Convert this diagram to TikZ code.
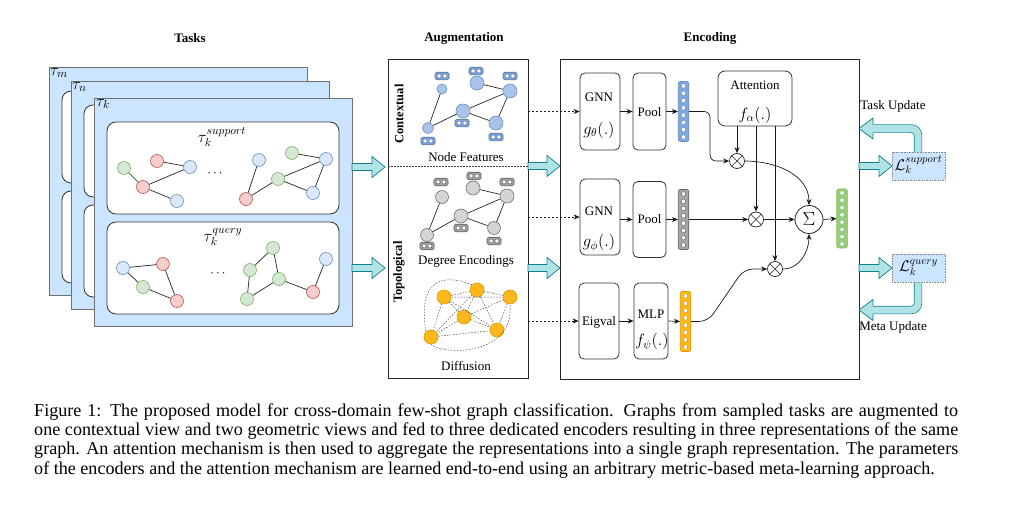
\RequirePackage{fix-cm}
\documentclass[tikz,border=0pt]{standalone}
\usepackage{fontspec}
\setmainfont{Liberation Serif}
\usetikzlibrary{arrows.meta,calc}
\definecolor{taskfill}{HTML}{CCE5FF}
\definecolor{taskdraw}{HTML}{707070}
\definecolor{gfill}{HTML}{D5E8D4}\definecolor{gdraw}{HTML}{82B366}
\definecolor{rfill}{HTML}{F8CECC}\definecolor{rdraw}{HTML}{B85450}
\definecolor{bfill}{HTML}{DAE8FC}\definecolor{bdraw}{HTML}{6C8EBF}
\definecolor{tealfill}{HTML}{B0E3E6}\definecolor{tealdraw}{HTML}{0E8088}
\definecolor{cblue}{HTML}{A9C4EB}
\definecolor{fblue}{HTML}{7EA6E0}
\definecolor{cgray}{HTML}{D4D4D4}
\definecolor{fgray}{HTML}{A6A6A6}
\definecolor{corange}{HTML}{FFB81C}\definecolor{dorange}{HTML}{D79B00}
\definecolor{vgreen}{HTML}{97D077}
\tikzset{
 gn/.style={circle, inner sep=0pt, minimum size=13pt, line width=0.6pt},
 gg/.style={gn, fill=gfill, draw=gdraw},
 gr/.style={gn, fill=rfill, draw=rdraw},
 gb/.style={gn, fill=bfill, draw=bdraw},
 cn/.style={gn, fill=cblue, draw=bdraw, minimum size=14pt},
 dn/.style={gn, fill=cgray, draw=black!55, minimum size=14pt},
 on/.style={gn, fill=corange, draw=dorange, minimum size=14pt},
 edge/.style={draw=black!85, line width=0.7pt},
 dedge/.style={draw=black!70, line width=0.5pt, dash pattern=on 1.5pt off 1.5pt},
 feat/.style={rectangle, rounded corners=1.5pt, minimum width=14pt, minimum height=7.5pt, inner sep=0pt, line width=0.6pt,
   path picture={\draw[fill=white, line width=0.5pt] ([xshift=-2.9pt]path picture bounding box.center) circle (2.1pt) ([xshift=2.9pt]path picture bounding box.center) circle (2.1pt);}},
 featb/.style={feat, fill=fblue, draw=bdraw!80!black},
 featg/.style={feat, fill=fgray, draw=black!65},
 fv/.style={rectangle, rounded corners=2pt, minimum width=10.5pt, minimum height=60pt, inner sep=0pt, line width=0.6pt,
   path picture={\foreach \i in {0,...,7}{\draw[fill=white, line width=0.5pt] ([yshift={(\i-3.5)*7.3pt}]path picture bounding box.center) circle (2.3pt);}}},
 ot/.style={circle, draw=black!85, fill=white, minimum size=15pt, inner sep=0pt, line width=0.7pt,
   path picture={\draw[line width=0.5pt] (path picture bounding box.north west)--(path picture bounding box.south east) (path picture bounding box.north east)--(path picture bounding box.south west);}},
 taskrect/.style={draw=taskdraw, fill=taskfill, line width=0.8pt},
 innerbox/.style={draw=black!80, fill=white, rounded corners=9pt, line width=0.8pt},
 encbox/.style={draw=black!80, fill=white, rounded corners=5pt, line width=0.8pt, inner sep=0pt},
 panel/.style={draw=black!85, line width=0.8pt, inner sep=0pt},
 title/.style={font=\fontsize{13}{15}\selectfont\bfseries, inner sep=1pt},
 lbl/.style={font=\fontsize{13}{15}\selectfont, inner sep=1pt},
 mlbl/.style={font=\fontsize{16.5}{18}\selectfont, inner sep=1pt},
 captext/.style={font=\fontsize{18.1}{19.4}\selectfont, inner sep=0pt},
 arr/.style={-{Stealth[length=6pt,width=5pt]}, line width=0.7pt, draw=black!90},
 darr/.style={arr, dash pattern=on 2pt off 2pt, line width=0.5pt},
 lossbox/.style={fill=taskfill, draw=black!45, densely dotted, line width=0.6pt, minimum width=53pt, minimum height=28pt, inner sep=0pt},
 tealst/.style={draw=tealdraw, fill=tealfill, line width=0.7pt, line join=miter},
}
\newcommand{\tealarrow}[2]{%
  \draw[tealst] let \p1=(#1), \p2=(#2) in
    (\x1,\y1-3.5pt) -- (\x2-13pt,\y1-3.5pt) -- (\x2-13pt,\y1-10.5pt) -- (\x2,\y1) -- (\x2-13pt,\y1+10.5pt) -- (\x2-13pt,\y1+3.5pt) -- (\x1,\y1+3.5pt) -- cycle;}
\newcommand{\tasklayer}[2]{%
  \draw[taskrect] (#1,#2) rectangle ++(258,228);
  \draw[innerbox] (#1+13,#2+24) rectangle (#1+245,#2+116);
  \draw[innerbox] (#1+13,#2+124) rectangle (#1+245,#2+216);}
\begin{document}
\begin{tikzpicture}[x=1pt,y=-1pt]
\useasboundingbox (0,0) rectangle (1024,510);
% titles
\node[title] (tTasks) at (190,38) {Tasks};
\node[title] (tAug) at (464,38) {Augmentation};
\node[title] (tEnc) at (710,38) {Encoding};
% ---------------- tasks
\tasklayer{49}{67}
\node[mlbl, anchor=north west] (lm) at (49,67) {$\tau_m$};
\tasklayer{71}{81}
\node[mlbl, anchor=north west] (ln) at (71,81) {$\tau_n$};
\tasklayer{94}{98}
\node[mlbl, anchor=north west] (lk) at (95,98) {$\tau_k$};
\node[mlbl] (lsupp) at (222,137) {$\tau_k^{support}$};
\node[mlbl] (lquer) at (223,237) {$\tau_k^{query}$};
% support graphs
\node[gg] (s1) at (124,168) {};
\node[gr] (s2) at (157,161) {};
\node[gb] (s3) at (190,167) {};
\node[gr] (s4) at (143,187) {};
\node[gb] (s5) at (177,201) {};
\draw[edge] (s1)--(s4) (s4)--(s3) (s4)--(s5) (s2)--(s3);
\node[lbl] (sdots) at (215,174) {$\cdots$};
\node[gb] (s6) at (259,160) {};
\node[gg] (s7) at (292,153) {};
\node[gb] (s8) at (326,159) {};
\node[gg] (s9) at (278,179) {};
\node[gb] (s10) at (313,193) {};
\node[gr] (s11) at (246,199) {};
\draw[edge] (s6)--(s11) (s11)--(s9) (s9)--(s8) (s9)--(s10) (s7)--(s8) (s8)--(s10);
% query graphs
\node[gb] (q1) at (123,268) {};
\node[gr] (q2) at (163,264) {};
\node[gg] (q3) at (143,287) {};
\node[gr] (q4) at (177,301) {};
\draw[edge] (q1)--(q2) (q1)--(q3) (q3)--(q4) (q2)--(q4);
\node[lbl] (qdots) at (218,274) {$\cdots$};
\node[gg] (q5) at (273,248) {};
\node[gg] (q6) at (250,270) {};
\node[gg] (q7) at (279,279) {};
\node[gg] (q8) at (247,299) {};
\node[gr] (q9) at (313,292) {};
\node[gb] (q10) at (326,259) {};
\draw[edge] (q5)--(q6) (q5)--(q7) (q7)--(q8) (q6)--(q8) (q7)--(q9) (q9)--(q10);
% ---------------- augmentation
\node[panel, minimum width=140pt, minimum height=319pt] (augbox) at (458,218.5) {};
\node[title, rotate=90, font=\fontsize{12.5}{14}\selectfont\bfseries] (ctx) at (399,114) {Contextual};
\node[title, rotate=90, font=\fontsize{12.5}{14}\selectfont\bfseries] (topo) at (399,272) {Topological};
\coordinate (sepL) at (388,166);
\coordinate (sepR) at (528,166);
\draw[dedge, draw=black!75] (sepL) -- (sepR);
% contextual
\node[cn, minimum size=10pt] (c1) at (442,89) {};
\node[cn] (c2) at (477,83) {};
\node[cn] (c3) at (510,91) {};
\node[cn] (c4) at (463,111) {};
\node[cn] (c5) at (496,123) {};
\node[cn, minimum size=11pt] (c6) at (428,128) {};
\draw[edge] (c1)--(c6) (c6)--(c4) (c4)--(c3) (c2)--(c3) (c4)--(c5) (c3)--(c5);
\node[featb] (cf1) at (442,76) {};
\node[featb] (cf2) at (476,71) {};
\node[featb] (cf3) at (510,76) {};
\node[featb] (cf4) at (462,123) {};
\node[featb] (cf5) at (496,137) {};
\node[featb] (cf6) at (428,141) {};
\node[lbl] (nfeat) at (466,157) {Node Features};
% degree
\node[dn, minimum size=13pt] (d1) at (442,197) {};
\node[dn] (d2) at (473,188) {};
\node[dn] (d3) at (507,196) {};
\node[dn] (d4) at (461,216) {};
\node[dn, minimum size=13pt] (d5) at (494,228) {};
\node[dn, minimum size=13pt] (d6) at (427,235) {};
\draw[edge] (d1)--(d6) (d6)--(d4) (d4)--(d3) (d2)--(d3) (d4)--(d5) (d3)--(d5);
\node[featg] (df1) at (441,182) {};
\node[featg] (df2) at (474,176) {};
\node[featg] (df3) at (507,182) {};
\node[featg] (df4) at (461,228) {};
\node[featg] (df5) at (494,241) {};
\node[featg] (df6) at (427,246) {};
\node[lbl] (degenc) at (466,261) {Degree Encodings};
% diffusion
\node[on] (o1) at (444,297) {};
\node[on] (o2) at (477,290) {};
\node[on] (o3) at (510,297) {};
\node[on] (o4) at (464,317) {};
\node[on] (o5) at (497,330) {};
\node[on] (o6) at (431,337) {};
\draw[dedge] (o1)--(o2) (o1)--(o4) (o1)--(o5) (o1)--(o6) (o2)--(o3) (o2)--(o4) (o2)--(o6) (o2)--(o5)
  (o3)--(o4) (o3)--(o5) (o4)--(o5) (o4)--(o6) (o6)--(o5) (o1)--(o3);
\draw[dedge] (o2.north west) .. controls (440,272) and (418,282) .. (o6.north west);
\draw[dedge] (o6.south) .. controls (445,356) and (515,355) .. (o3.south);
\node[lbl] (diff) at (466,366) {Diffusion};
% ---------------- encoding
\node[panel, minimum width=299pt, minimum height=320pt] (encbox) at (709.5,219) {};
\node[encbox, minimum width=40pt, minimum height=77pt] (gnn1) at (600,111.5) {};
\node[encbox, minimum width=33pt, minimum height=77pt] (pool1) at (649.5,111.5) {};
\node[fv, fill=fblue, draw=bdraw] (v1) at (683.5,111.5) {};
\node[encbox, minimum width=40pt, minimum height=76pt] (gnn2) at (600,217) {};
\node[encbox, minimum width=33pt, minimum height=76pt] (pool2) at (649.5,219.5) {};
\node[fv, fill=fgray, draw=black!60] (v2) at (683.5,219.5) {};
\node[encbox, minimum width=40pt, minimum height=76pt] (eig) at (599,321) {};
\node[encbox, minimum width=34pt, minimum height=76pt] (mlp) at (651,321) {};
\node[fv, fill=corange, draw=dorange] (v3) at (685.5,321.5) {};
\node[encbox, minimum width=74pt, minimum height=55pt, rounded corners=7pt] (att) at (755,98.5) {};
\node[ot] (m1) at (737,161) {};
\node[ot] (m2) at (756,219.5) {};
\node[ot] (m3) at (775,269) {};
\node[circle, draw=black!85, fill=white, minimum size=28pt, inner sep=0pt, line width=0.8pt, font=\fontsize{19}{21}\selectfont] (sig) at (809,219.5) {$\Sigma$};
\node[fv, fill=vgreen, draw=gdraw, minimum height=59pt] (vout) at (842,218.5) {};
% encoding labels
\node[lbl] (gnn1t) at (599,97) {GNN};
\node[mlbl] (gnn1f) at (599,130) {$g_\theta(.)$};
\node[lbl] (pool1t) at (649.5,112) {Pool};
\node[lbl] (gnn2t) at (599,211) {GNN};
\node[mlbl] (gnn2f) at (599,243) {$g_\phi(.)$};
\node[lbl] (pool2t) at (649.5,219) {Pool};
\node[lbl] (eigt) at (599,322) {Eigval};
\node[lbl] (mlpt) at (651,314) {MLP};
\node[mlbl] (mlpf) at (652,342) {$f_\psi(.)$};
\node[lbl] (attt) at (755,85) {Attention};
\node[mlbl] (attf) at (755,115) {$f_\alpha(.)$};
% encoding arrows
\draw[darr] (augbox.east |- gnn1.west) -- (gnn1.west);
\draw[darr] (augbox.east |- gnn2.west) -- (gnn2.west);
\draw[darr] (augbox.east |- eig.west) -- (eig.west);
\draw[arr] (gnn1.east) -- (pool1.west);
\draw[arr] (pool1.east) -- (v1.west);
\draw[arr] (gnn2.east |- pool2.west) -- (pool2.west);
\draw[arr] (pool2.east) -- (v2.west);
\draw[arr] (eig.east) -- (mlp.west);
\draw[arr] (mlp.east) -- (v3.west);
\draw[arr, rounded corners=6pt] (v1.east) -- ++(21,0) |- (m1.west);
\draw[arr] (v2.east) -- (m2.west);
\draw[arr, rounded corners=9pt] (v3.east) -- (708,321.5) -- (744,269) -- (m3.west);
\draw[arr] (att.south -| m1) -- (m1.north);
\draw[arr] (att.south -| m2) -- (m2.north);
\draw[arr] (att.south -| m3) -- (m3.north);
\draw[arr] (m1.east) to[out=0,in=90] (sig.north);
\draw[arr] (m2.east) -- (sig.west);
\draw[arr] (m3.east) to[out=0,in=-90] (sig.south);
\draw[arr] (sig.east) -- (vout.west);
% ---------------- block arrows
\coordinate (ta1s) at (352,167); \coordinate (ta1e) at (385,167);
\coordinate (ta2s) at (352,268); \coordinate (ta2e) at (385,268);
\coordinate (tb1s) at (528,166); \coordinate (tb1e) at (560,166);
\coordinate (tb2s) at (528,268); \coordinate (tb2e) at (560,268);
\coordinate (tc1s) at (859,166); \coordinate (tc1e) at (892,166);
\coordinate (tc2s) at (859,268); \coordinate (tc2e) at (892,268);
\tealarrow{ta1s}{ta1e}
\tealarrow{ta2s}{ta2e}
\tealarrow{tb1s}{tb1e}
\tealarrow{tb2s}{tb2e}
\tealarrow{tc1s}{tc1e}
\tealarrow{tc2s}{tc2e}
% bent arrows
\coordinate (tuA) at (918,153); \coordinate (tuB) at (918,128.5); \coordinate (tuC) at (872,128.5);
\draw[tealdraw, line width=8.4pt, rounded corners=7pt] (tuA) -- (tuB) -- (tuC);
\draw[tealfill, line width=7pt, rounded corners=7pt] (918,153.5) -- (tuB) -- (871,128.5);
\fill[tealfill] (873,118) -- (859,128.5) -- (873,139) -- cycle;
\draw[tealdraw, line width=0.7pt, line join=miter] (873,124.3) -- (873,118) -- (859,128.5) -- (873,139) -- (873,132.7);
\coordinate (muA) at (918,282); \coordinate (muB) at (918,310); \coordinate (muC) at (872,310);
\draw[tealdraw, line width=8.4pt, rounded corners=7pt] (muA) -- (muB) -- (muC);
\draw[tealfill, line width=7pt, rounded corners=7pt] (918,281.5) -- (muB) -- (871,310);
\fill[tealfill] (873,299.5) -- (859,310) -- (873,320.5) -- cycle;
\draw[tealdraw, line width=0.7pt, line join=miter] (873,305.8) -- (873,299.5) -- (859,310) -- (873,320.5) -- (873,314.2);
\node[lossbox] (lsup) at (918.5,166) {};
\node[mlbl, font=\fontsize{15.5}{17}\selectfont] (lsupt) at (918.5,165) {$\mathcal{L}_k^{support}$};
\node[lossbox] (lqry) at (918.5,268.5) {};
\node[mlbl, font=\fontsize{15.5}{17}\selectfont] (lqryt) at (918.5,267.5) {$\mathcal{L}_k^{query}$};
\node[lbl] (taskup) at (893,106) {Task Update};
\node[lbl] (metaup) at (893,327) {Meta Update};
% ---------------- caption
\node[captext, anchor=base west] (cap1) at (34,416) {\makebox[924pt][s]{Figure 1: The proposed model for cross-domain few-shot graph classification. Graphs from sampled tasks are augmented to}};
\node[captext, anchor=base west] (cap2) at (34,435.4) {\makebox[924pt][s]{one contextual view and two geometric views and fed to three dedicated encoders resulting in three representations of the same}};
\node[captext, anchor=base west] (cap3) at (34,454.8) {\makebox[924pt][s]{graph. An attention mechanism is then used to aggregate the representations into a single graph representation. The parameters}};
\node[captext, anchor=base west] (cap4) at (34,474.2) {of the encoders and the attention mechanism are learned end-to-end using an arbitrary metric-based meta-learning approach.};
\end{tikzpicture}
\end{document}
